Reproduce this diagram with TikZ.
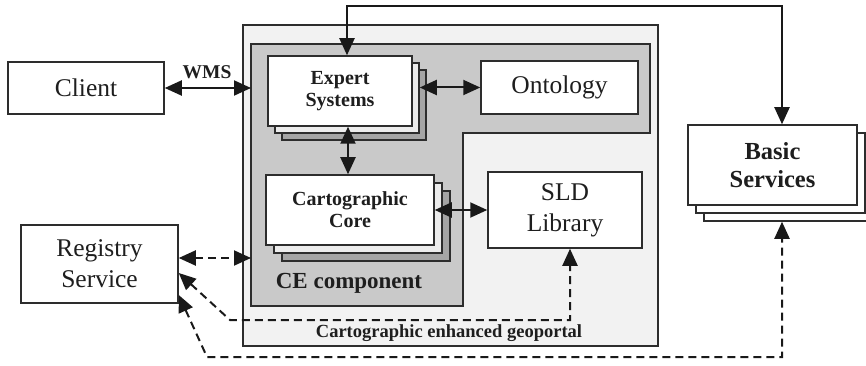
\documentclass[tikz,border=0pt]{standalone}
\usepackage{fontspec}
\setmainfont{Liberation Serif}
\usetikzlibrary{arrows.meta}
\definecolor{bord}{RGB}{45,45,45}
\definecolor{geofill}{RGB}{242,242,242}
\definecolor{cefill}{RGB}{201,201,201}
\definecolor{darkcopy}{RGB}{165,165,165}
\definecolor{lightcopy}{RGB}{236,236,236}
\definecolor{txt}{RGB}{30,30,30}
\begin{document}
\begin{tikzpicture}[x=1pt,y=-1pt,
  box/.style={draw=bord, line width=1.5pt, fill=white, inner sep=0pt, align=center, text=txt},
  regbox/.style={box, font=\fontsize{25.5}{31}\selectfont},
  innerbox/.style={box, font=\bfseries\fontsize{20}{22}\selectfont},
  conn/.style={line width=2pt, draw=black!90, {Triangle[length=17pt,width=15pt]}-{Triangle[length=17pt,width=15pt]}},
  dconn/.style={conn, dash pattern=on 8pt off 5pt},
  lbl/.style={inner sep=0pt, text=txt}
]
\useasboundingbox (0,0) rectangle (866,366);

% containers
\node[draw=bord, line width=1.5pt, fill=geofill, minimum width=415pt, minimum height=321pt, inner sep=0pt] (geo) at (450.5,185.5) {};
\draw[draw=bord, line width=1.5pt, fill=cefill] (251,44) -- (650,44) -- (650,133) -- (463,133) -- (463,306) -- (251,306) -- cycle;
\coordinate (ceW1) at (251,88);
\coordinate (ceW2) at (251,258);

% left boxes
\node[regbox, minimum width=156pt, minimum height=52pt] (client) at (86,88) {Client};
\node[regbox, minimum width=157pt, minimum height=78pt] (reg) at (99.5,264) {Registry\\Service};

% expert systems stack
\node[innerbox, fill=darkcopy, minimum width=144pt, minimum height=70pt] (es3) at (354,105) {};
\node[innerbox, fill=lightcopy, minimum width=144pt, minimum height=70pt] (es2) at (347,98) {};
\node[innerbox, minimum width=144pt, minimum height=70pt] (es) at (340,91) {Expert\\Systems};

\node[regbox, minimum width=157pt, minimum height=53pt] (ont) at (559.5,87.5) {Ontology};

% cartographic core stack
\node[innerbox, fill=darkcopy, minimum width=168pt, minimum height=70pt] (cc3) at (366,226) {};
\node[innerbox, fill=lightcopy, minimum width=168pt, minimum height=70pt] (cc2) at (358,218) {};
\node[innerbox, minimum width=168pt, minimum height=70pt] (cc) at (350,210) {Cartographic\\Core};

\node[regbox, minimum width=154pt, minimum height=76pt] (sld) at (565,210) {SLD\\Library};

% basic services stack
\node[box, minimum width=169pt, minimum height=80pt] (bs3) at (788.5,181) {};
\node[box, minimum width=169pt, minimum height=80pt] (bs2) at (780.5,173) {};
\node[box, font=\bfseries\fontsize{24.5}{28}\selectfont, minimum width=169pt, minimum height=80pt] (bs) at (772.5,165) {Basic\\Services};

% labels
\node[lbl, font=\bfseries\fontsize{23}{26}\selectfont] (celbl) at (349,283) {CE component};
\node[lbl, font=\bfseries\fontsize{18.5}{20}\selectfont] (geolbl) at (449,333) {Cartographic enhanced geoportal};
\node[lbl, font=\bfseries\fontsize{19.5}{20}\selectfont] (wms) at (207,72) {WMS};

% connectors
\draw[conn] (client.east) -- (ceW1);
\draw[conn] (es2.east |- ont.west) -- (ont.west);
\draw[conn] ([xshift=8pt]es.south) -- ([xshift=-2pt]cc.north);
\draw[conn] (cc.east) -- (sld.west);
\coordinate (t1) at (347,6);
\coordinate (t2) at (782,6);
\draw[conn] ([xshift=7pt]es.north) -- (t1) -- (t2) -- (bs.north -| t2);

\draw[dconn] (reg.east |- ceW2) -- (ceW2);
\coordinate (d1) at (230,320);
\coordinate (d2) at (570,320);
\draw[dconn] ([yshift=-9pt]reg.east) -- (d1) -- (d2) -- (sld.south -| d2);
\coordinate (d3) at (207,357);
\coordinate (d4) at (782,357);
\draw[dconn] ([yshift=-31pt]reg.east) -- (d3) -- (d4) -- (bs3.south -| d4);
\end{tikzpicture}
\end{document}
